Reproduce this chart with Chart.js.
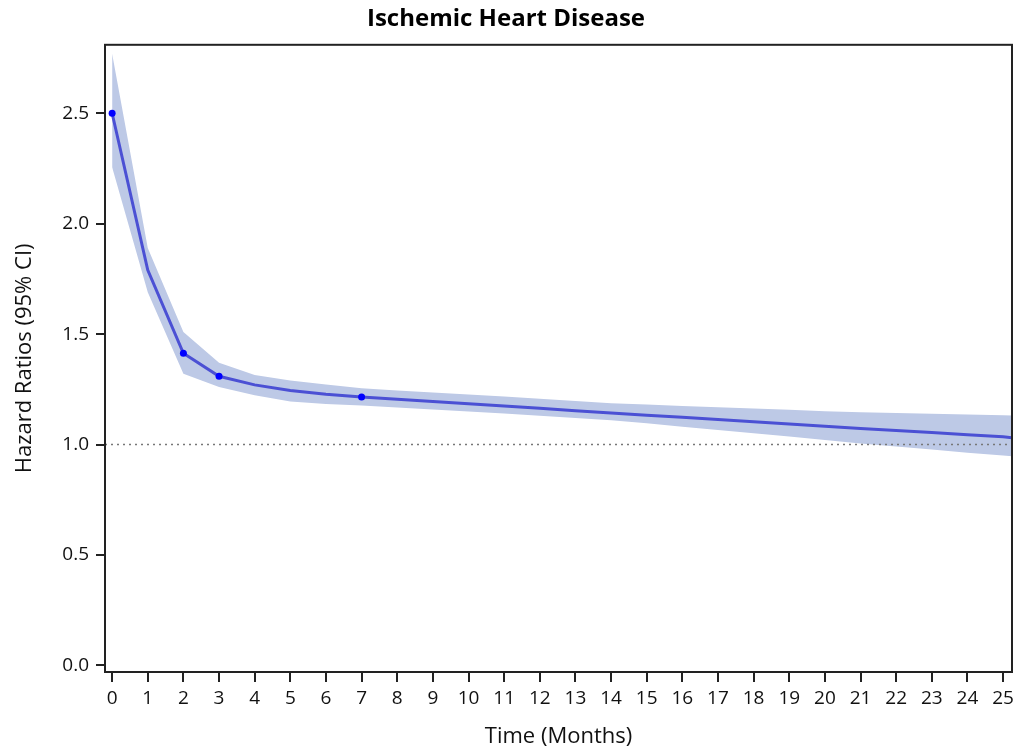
<!DOCTYPE html>
<html>
<head>
<meta charset="utf-8">
<script src="https://cdn.jsdelivr.net/npm/chart.js@4/dist/chart.umd.min.js"></script>
<style>
  html, body { margin: 0; padding: 0; background: #fff; }
  #wrap { width: 1031px; height: 750px; }
</style>
</head>
<body>
<div id="wrap"><canvas id="hrChart" width="1031" height="750"></canvas></div>
<script>
// Months and estimated hazard ratios with 95% CI
const months = [0, 1, 2, 3, 4, 5, 6, 7, 8, 9, 10, 11, 12, 13, 14, 15, 16, 17, 18, 19, 20, 21, 22, 23, 24, 25, 25.25];
const hazard = [2.50, 1.79, 1.413, 1.309, 1.27, 1.245, 1.228, 1.215, 1.205, 1.195, 1.185, 1.174, 1.164, 1.153, 1.143, 1.133, 1.123, 1.113, 1.103, 1.093, 1.083, 1.073, 1.064, 1.054, 1.044, 1.035, 1.031];
const upperCI = [2.77, 1.89, 1.51, 1.37, 1.315, 1.29, 1.272, 1.255, 1.245, 1.236, 1.227, 1.217, 1.207, 1.197, 1.187, 1.181, 1.175, 1.169, 1.163, 1.157, 1.151, 1.146, 1.143, 1.139, 1.136, 1.133, 1.132];
const lowerCI = [2.255, 1.69, 1.32, 1.26, 1.223, 1.195, 1.183, 1.177, 1.168, 1.159, 1.15, 1.14, 1.13, 1.12, 1.11, 1.096, 1.081, 1.066, 1.051, 1.036, 1.02, 1.005, 0.991, 0.977, 0.963, 0.95, 0.947];
const markedMonths = [0, 2, 3, 7];
const xTicks = [0, 1, 2, 3, 4, 5, 6, 7, 8, 9, 10, 11, 12, 13, 14, 15, 16, 17, 18, 19, 20, 21, 22, 23, 24, 25];
const yTicks = [0, 0.5, 1.0, 1.5, 2.0, 2.5];
const refLine = 1.0;

const FONT = "'Open Sans', 'DejaVu Sans', sans-serif";

// box around the plot area (top and right sides)
const frame = {
  id: "frame",
  afterDatasetsDraw(chart) {
    const { ctx, chartArea: a } = chart;
    ctx.save();
    ctx.strokeStyle = "#222";
    ctx.lineWidth = 2;
    ctx.strokeRect(a.left, a.top, a.right - a.left, a.bottom - a.top);
    ctx.restore();
  }
};

const toPts = (vals) => months.map((m, i) => ({ x: m, y: vals[i] }));

const ctx = document.getElementById("hrChart").getContext("2d");
new Chart(ctx, {
  type: "scatter",
  data: {
    datasets: [
      {
        label: "Upper",
        data: toPts(upperCI),
        showLine: true,
        borderWidth: 0,
        borderColor: "rgba(0,0,0,0)",
        backgroundColor: "#bdc9e6",
        pointRadius: 0,
        fill: "+1",
        order: 3
      },
      {
        label: "Lower",
        data: toPts(lowerCI),
        showLine: true,
        borderWidth: 0,
        borderColor: "rgba(0,0,0,0)",
        pointRadius: 0,
        fill: false,
        order: 3
      },
      {
        label: "Reference",
        data: [{ x: -0.2, y: refLine }, { x: 25.25, y: refLine }],
        showLine: true,
        borderColor: "#777",
        borderWidth: 1.5,
        borderDash: [2, 4],
        pointRadius: 0,
        fill: false,
        order: 2
      },
      {
        label: "HR",
        data: toPts(hazard),
        showLine: true,
        borderColor: "#4b50d4",
        borderWidth: 3,
        pointRadius: (c) => markedMonths.includes(months[c.dataIndex]) ? 3.5 : 0,
        pointBackgroundColor: "#0000ff",
        pointBorderWidth: 0,
        fill: false,
        order: 1
      }
    ]
  },
  options: {
    responsive: false,
    animation: false,
    layout: { padding: { left: 0, right: 19, top: 0, bottom: 0 } },
    scales: {
      x: {
        type: "linear",
        min: -0.2,
        max: 25.25,
        afterBuildTicks: (s) => { s.ticks = xTicks.map(v => ({ value: v })); },
        afterFit: (s) => { s.height = 78; },
        border: { display: true, color: "#222", width: 2 },
        grid: { display: true, drawOnChartArea: false, drawTicks: true, tickLength: 10, color: "#222", lineWidth: 2 },
        ticks: { color: "#111", font: { family: FONT, size: 19 }, padding: 5, maxRotation: 0, autoSkip: false },
        title: { display: true, text: "Time (Months)", color: "#111", font: { family: FONT, size: 22 }, padding: { top: 0, bottom: 0 } }
      },
      y: {
        type: "linear",
        min: -0.03,
        max: 2.81,
        afterBuildTicks: (s) => { s.ticks = yTicks.map(v => ({ value: v })); },
        afterFit: (s) => { s.width = 105; },
        border: { display: true, color: "#222", width: 2 },
        grid: { display: true, drawOnChartArea: false, drawTicks: true, tickLength: 9, color: "#222", lineWidth: 2 },
        ticks: { color: "#111", font: { family: FONT, size: 19 }, padding: 7, callback: (v) => v.toFixed(1) },
        title: { display: true, text: "Hazard Ratios (95% CI)", color: "#111", font: { family: FONT, size: 22 }, padding: { top: 12, bottom: 12 } }
      }
    },
    plugins: {
      legend: { display: false },
      tooltip: { enabled: false },
      title: {
        display: true,
        text: "Ischemic Heart Disease",
        color: "#000",
        font: { family: FONT, size: 24, weight: "bold" },
        padding: { top: 5, bottom: 11 }
      }
    }
  },
  plugins: [frame]
});
</script>
</body>
</html>
